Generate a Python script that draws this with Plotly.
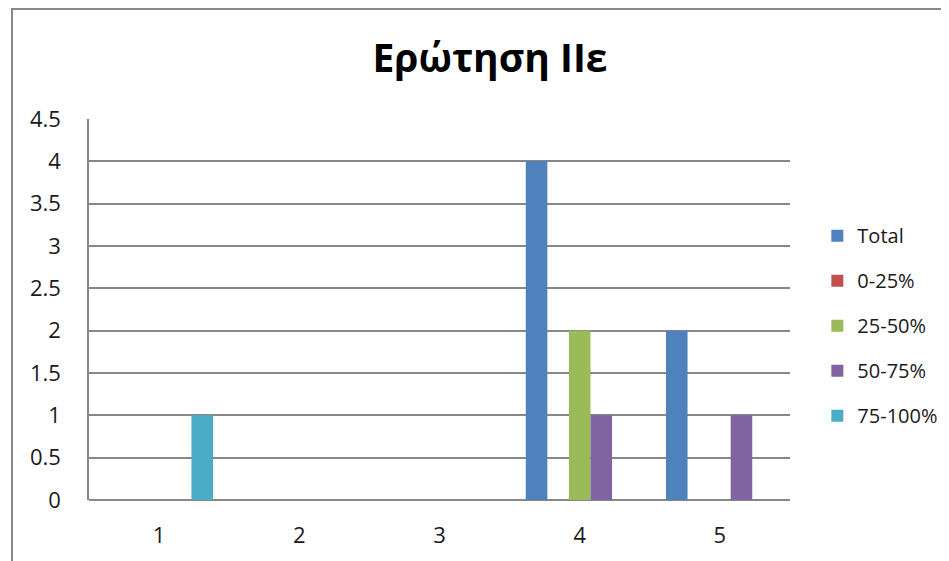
import plotly.graph_objects as go

categories = ["1", "2", "3", "4", "5"]
series_names = ["Total", "0-25%", "25-50%", "50-75%", "75-100%"]
total = [0, 0, 0, 4, 2]
p0_25 = [0, 0, 0, 0, 0]
p25_50 = [0, 0, 0, 2, 0]
p50_75 = [0, 0, 0, 1, 1]
p75_100 = [1, 0, 0, 0, 0]
values = [total, p0_25, p25_50, p50_75, p75_100]
colors = ["#4F81BD", "#C0504D", "#9BBB59", "#8064A2", "#4BACC6"]
y_ticks = [0, 0.5, 1, 1.5, 2, 2.5, 3, 3.5, 4, 4.5]
y_tick_labels = ["0", "0.5", "1", "1.5", "2", "2.5", "3", "3.5", "4", "4.5"]

FONT = "Open Sans"
L, R, T, B = 81, 167, 111, 69
PW, PH = 949 - L - R, 561 - T - B

fig = go.Figure()
for name, vals, col in zip(series_names, values, colors):
    fig.add_trace(go.Bar(
        x=categories, y=vals, name=name, legendgroup=name,
        marker=dict(color=col, line=dict(width=0)),
    ))

fig.update_layout(
    width=949, height=561,
    margin=dict(l=L, r=R, t=T, b=B, autoexpand=False),
    paper_bgcolor="white", plot_bgcolor="white",
    barmode="group", bargap=0.2308, bargroupgap=0,
    font=dict(family=FONT, size=22, color="#1a1a1a"),
    title=dict(text="<b>Ερώτηση IIε</b>", x=(482 - L) / PW, xref="paper",
               xanchor="center", y=1 - 50 / 561, yanchor="middle",
               font=dict(family=FONT, size=39, color="#000000")),
    showlegend=True,
    legend=dict(x=1.039, xanchor="left", y=0.745, yanchor="top",
                traceorder="grouped", tracegroupgap=16,
                font=dict(family=FONT, size=20, color="#1a1a1a"),
                itemwidth=30, bgcolor="rgba(0,0,0,0)"),
    xaxis=dict(type="category", showgrid=False, ticks="", showline=False,
               tickfont=dict(size=22), ticklabelstandoff=20, zeroline=False),
    yaxis=dict(range=[0, 4.5], tickvals=y_ticks, ticktext=y_tick_labels,
               showgrid=True, gridcolor="#878787", gridwidth=1.5,
               showline=True, linecolor="#878787", linewidth=1.5,
               ticks="", zeroline=True, zerolinecolor="#878787", zerolinewidth=1.5,
               tickfont=dict(size=22), ticklabelstandoff=22),
    shapes=[dict(type="rect", xref="paper", yref="paper",
                 x0=(4 - L) / PW, x1=2.0, y0=-1.0, y1=(PH + T - 1) / PH,
                 line=dict(color="#888888", width=2), fillcolor="rgba(0,0,0,0)",
                 layer="below")],
)

fig.write_html("out.html")
